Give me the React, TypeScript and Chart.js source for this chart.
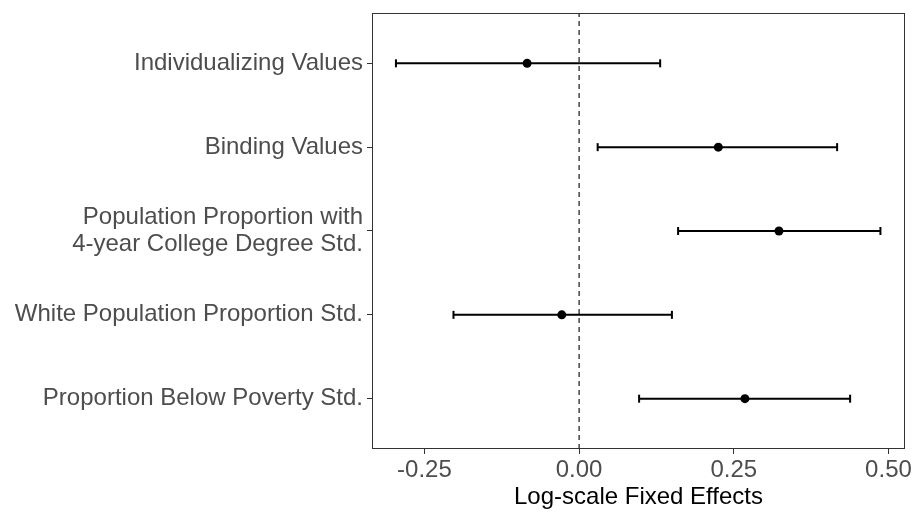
import React, { useEffect, useRef } from "react";
import { Chart, registerables } from "chart.js";

Chart.register(...registerables);

const categories: (string | string[])[] = [
  "Individualizing Values",
  "Binding Values",
  ["Population Proportion with", "4-year College Degree Std."],
  "White Population Proportion Std.",
  "Proportion Below Poverty Std.",
];
const estimates = [-0.084, 0.225, 0.323, -0.028, 0.268];
const lowers = [-0.296, 0.03, 0.16, -0.203, 0.097];
const uppers = [0.131, 0.417, 0.487, 0.15, 0.438];
const xTicks = [-0.25, 0, 0.25, 0.5];
const xTitle = "Log-scale Fixed Effects";

const FONT = "'Liberation Sans', Arial, Helvetica, sans-serif";

export default function App() {
  const ref = useRef<HTMLCanvasElement | null>(null);
  useEffect(() => {
    if (!ref.current) return;
    const n = categories.length;
    const yPos = (i: number) => n - i;
    const datasets: any[] = [];
    datasets.push({
      type: "scatter",
      data: [
        { x: 0, y: 0.4 },
        { x: 0, y: n + 0.6 },
      ],
      showLine: true,
      borderColor: "#000000",
      borderWidth: 1.1,
      borderDash: [5, 4],
      pointRadius: 0,
    });
    categories.forEach((_, i) => {
      datasets.push({
        type: "scatter",
        data: [
          { x: lowers[i], y: yPos(i) },
          { x: uppers[i], y: yPos(i) },
        ],
        showLine: true,
        borderColor: "#000000",
        backgroundColor: "#000000",
        borderWidth: 2,
        pointStyle: "line",
        pointRotation: 90,
        pointRadius: 4,
        pointBorderWidth: 2,
        pointBorderColor: "#000000",
      });
    });
    datasets.push({
      type: "scatter",
      data: estimates.map((v, i) => ({ x: v, y: yPos(i) })),
      backgroundColor: "#000000",
      borderColor: "#000000",
      pointRadius: 4.5,
      borderWidth: 0,
    });

    const borderPlugin = {
      id: "panelBorder",
      afterDraw(chart: any) {
        const { ctx, chartArea } = chart;
        ctx.save();
        ctx.strokeStyle = "#333333";
        ctx.lineWidth = 1;
        ctx.strokeRect(
          Math.round(chartArea.left) + 0.5,
          Math.round(chartArea.top) + 0.5,
          Math.round(chartArea.right - chartArea.left) - 1,
          Math.round(chartArea.bottom - chartArea.top) - 1
        );
        ctx.restore();
      },
    };

    const chart = new Chart(ref.current, {
      type: "scatter",
      data: { datasets },
      plugins: [borderPlugin],
      options: {
        animation: false,
        responsive: false,
        events: [],
        layout: { padding: { top: 13, right: 11, left: 0, bottom: 0 } },
        plugins: { legend: { display: false }, tooltip: { enabled: false } },
        scales: {
          x: {
            type: "linear",
            min: -0.3347,
            max: 0.5267,
            afterBuildTicks: (s: any) => {
              s.ticks = xTicks.map((v) => ({ value: v }));
            },
            afterFit: (s: any) => {
              s.height = 63;
              s.paddingLeft = 0;
              s.paddingRight = 0;
            },
            ticks: {
              callback: (v: any) => Number(v).toFixed(2),
              color: "#4d4d4d",
              font: { family: FONT, size: 24 },
              padding: 2,
              maxRotation: 0,
              autoSkip: false,
            },
            grid: {
              drawOnChartArea: false,
              drawTicks: true,
              tickLength: 5,
              color: "#333333",
              tickWidth: 1,
            },
            border: { display: false },
            title: {
              display: true,
              text: xTitle,
              color: "#000000",
              font: { family: FONT, size: 24 },
              padding: { top: 0, bottom: 0 },
            },
          },
          y: {
            type: "linear",
            min: 0.4,
            max: n + 0.6,
            afterBuildTicks: (s: any) => {
              s.ticks = categories.map((_, i) => ({ value: yPos(i) })).reverse();
            },
            afterFit: (s: any) => {
              s.width = 372;
              s.paddingTop = 0;
              s.paddingBottom = 0;
            },
            ticks: {
              callback: (v: any) => {
                const i = n - Math.round(Number(v));
                return categories[i] as any;
              },
              color: "#4d4d4d",
              font: { family: FONT, size: 24, lineHeight: 1.15 },
              padding: 4,
              autoSkip: false,
            },
            grid: {
              drawOnChartArea: false,
              drawTicks: true,
              tickLength: 5,
              color: "#333333",
              tickWidth: 1,
            },
            border: { display: false },
          },
        },
      },
    });
    return () => chart.destroy();
  }, []);
  return (
    <div style={{ position: "absolute", left: 0, top: 0, width: 916, height: 512, background: "#ffffff" }}>
      <canvas ref={ref} width={916} height={512} />
    </div>
  );
}
